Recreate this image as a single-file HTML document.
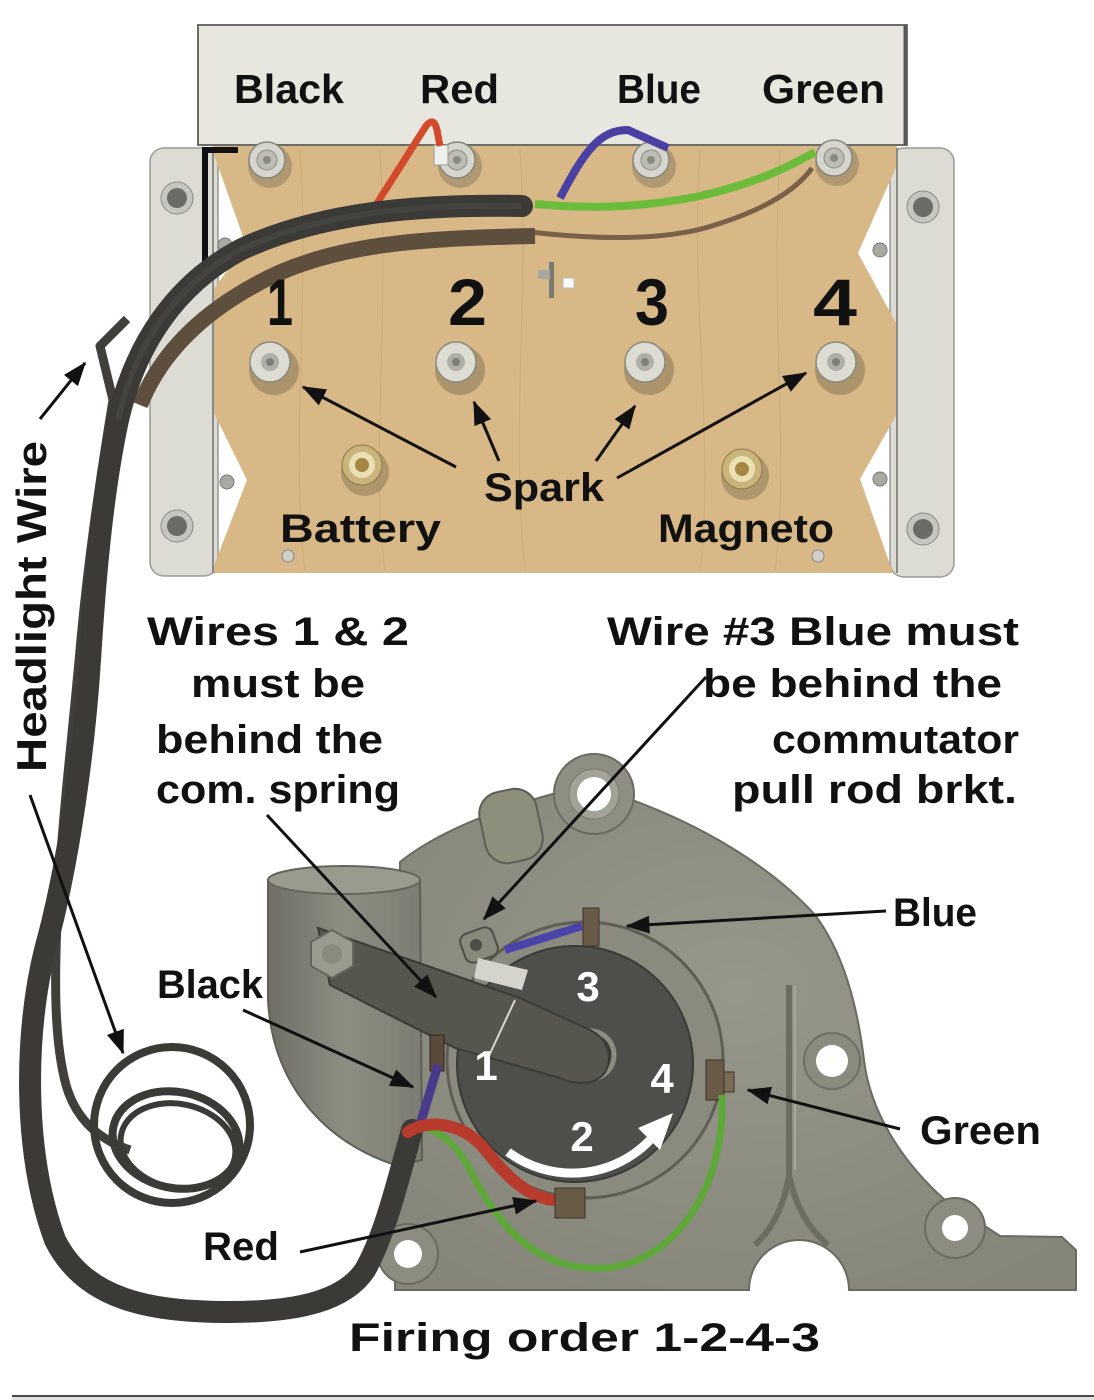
<!DOCTYPE html>
<html>
<head>
<meta charset="utf-8">
<style>
  html,body{margin:0;padding:0;background:#fff;}
  svg{display:block;}
  .t{font-family:"Liberation Sans",sans-serif;font-weight:bold;fill:#111;}
  .w{font-family:"Liberation Sans",sans-serif;font-weight:bold;fill:#fff;}
</style>
</head>
<body>
<svg width="1094" height="1400" viewBox="0 0 1094 1400" xmlns="http://www.w3.org/2000/svg">
  <defs>
    <marker id="ah" markerWidth="8" markerHeight="6" refX="7.5" refY="3" orient="auto" markerUnits="strokeWidth">
      <path d="M0,0 L8,3 L0,6 z" fill="#111"/>
    </marker>
    <radialGradient id="hous" cx="0.5" cy="0.4" r="0.7">
      <stop offset="0" stop-color="#96968a"/>
      <stop offset="1" stop-color="#85857a"/>
    </radialGradient>
    <linearGradient id="pipe" x1="0" x2="1" y1="0" y2="0">
      <stop offset="0" stop-color="#6f6f66"/>
      <stop offset="0.5" stop-color="#8d8d82"/>
      <stop offset="1" stop-color="#7c7c72"/>
    </linearGradient>
  </defs>

  <rect x="0" y="0" width="1094" height="1400" fill="#fff"/>

  <!-- ================= TOP BOX ================= -->
  <rect x="150" y="148" width="68" height="428" rx="14" fill="#dcdcd5" stroke="#9a9a94" stroke-width="1.5"/>
  <rect x="890" y="148" width="64" height="429" rx="14" fill="#dcdcd5" stroke="#9a9a94" stroke-width="1.5"/>
  <circle cx="177" cy="198" r="16" fill="#c6c6c0" stroke="#8a8a84"/>
  <circle cx="177" cy="198" r="10" fill="#6c6c66"/>
  <circle cx="177" cy="526" r="16" fill="#c6c6c0" stroke="#8a8a84"/>
  <circle cx="177" cy="526" r="10" fill="#6c6c66"/>
  <circle cx="923" cy="207" r="16" fill="#c6c6c0" stroke="#8a8a84"/>
  <circle cx="923" cy="207" r="10" fill="#6c6c66"/>
  <circle cx="923" cy="529" r="16" fill="#c6c6c0" stroke="#8a8a84"/>
  <circle cx="923" cy="529" r="10" fill="#6c6c66"/>

  <polygon points="213,143 897,143 897,165 858,253 897,325 897,414 860,479 893,573 213,573 213,568 247,480 213,411 213,290 246,245 213,152"
           fill="#d7b886"/>
  <g stroke="#c29f6c" stroke-width="1" opacity="0.5" fill="none">
    <path d="M300 150 C310 300 290 450 305 570"/>
    <path d="M520 150 C530 300 510 420 525 570"/>
    <path d="M700 150 C690 300 715 450 700 570"/>
    <path d="M380 150 C390 330 370 460 385 570"/>
    <path d="M780 150 C770 330 790 460 775 570"/>
  </g>
  <line x1="213" y1="148" x2="213" y2="573" stroke="#8a8a84" stroke-width="2"/>
  <line x1="897" y1="148" x2="897" y2="573" stroke="#8a8a84" stroke-width="2"/>
  <circle cx="225" cy="245" r="7" fill="#a9a9a2" stroke="#777"/>
  <circle cx="227" cy="482" r="7" fill="#a9a9a2" stroke="#777"/>
  <circle cx="880" cy="250" r="7" fill="#a9a9a2" stroke="#777"/>
  <circle cx="880" cy="479" r="7" fill="#a9a9a2" stroke="#777"/>

  <rect x="198" y="25" width="709" height="120" fill="#e7e7df" stroke="#6d6d68" stroke-width="2"/>
  <line x1="905" y1="25" x2="905" y2="145" stroke="#555" stroke-width="3"/>

  <g>
    <circle cx="270" cy="166" r="22" fill="#a08c6a" opacity="0.7"/>
    <circle cx="267" cy="160" r="18" fill="#d6d6ce" stroke="#86867e" stroke-width="1.5"/>
    <circle cx="267" cy="160" r="10" fill="#bdbdb5" stroke="#8a8a82"/>
    <circle cx="267" cy="160" r="4" fill="#8a8a82"/>

    <circle cx="460" cy="166" r="22" fill="#a08c6a" opacity="0.7"/>
    <circle cx="457" cy="160" r="18" fill="#d6d6ce" stroke="#86867e" stroke-width="1.5"/>
    <circle cx="457" cy="160" r="10" fill="#bdbdb5" stroke="#8a8a82"/>
    <circle cx="457" cy="160" r="4" fill="#8a8a82"/>
    <rect x="434" y="145" width="14" height="20" fill="#eeeeea" stroke="#999"/>

    <circle cx="654" cy="166" r="22" fill="#a08c6a" opacity="0.7"/>
    <circle cx="651" cy="160" r="18" fill="#d6d6ce" stroke="#86867e" stroke-width="1.5"/>
    <circle cx="651" cy="160" r="10" fill="#bdbdb5" stroke="#8a8a82"/>
    <circle cx="651" cy="160" r="4" fill="#8a8a82"/>

    <circle cx="837" cy="164" r="22" fill="#a08c6a" opacity="0.7"/>
    <circle cx="834" cy="158" r="18" fill="#d6d6ce" stroke="#86867e" stroke-width="1.5"/>
    <circle cx="834" cy="158" r="10" fill="#bdbdb5" stroke="#8a8a82"/>
    <circle cx="834" cy="158" r="4" fill="#8a8a82"/>
  </g>

  <g>
    <circle cx="274" cy="370" r="25" fill="#9c8763" opacity="0.75"/>
    <circle cx="270" cy="362" r="20" fill="#dcdcd2" stroke="#8a8a80" stroke-width="1.5"/>
    <circle cx="270" cy="362" r="9" fill="#b0b0a8"/>
    <circle cx="270" cy="362" r="4" fill="#7f7f78"/>

    <circle cx="460" cy="370" r="25" fill="#9c8763" opacity="0.75"/>
    <circle cx="456" cy="362" r="20" fill="#dcdcd2" stroke="#8a8a80" stroke-width="1.5"/>
    <circle cx="456" cy="362" r="9" fill="#b0b0a8"/>
    <circle cx="456" cy="362" r="4" fill="#7f7f78"/>

    <circle cx="649" cy="370" r="25" fill="#9c8763" opacity="0.75"/>
    <circle cx="645" cy="362" r="20" fill="#dcdcd2" stroke="#8a8a80" stroke-width="1.5"/>
    <circle cx="645" cy="362" r="9" fill="#b0b0a8"/>
    <circle cx="645" cy="362" r="4" fill="#7f7f78"/>

    <circle cx="840" cy="370" r="25" fill="#9c8763" opacity="0.75"/>
    <circle cx="836" cy="362" r="20" fill="#dcdcd2" stroke="#8a8a80" stroke-width="1.5"/>
    <circle cx="836" cy="362" r="9" fill="#b0b0a8"/>
    <circle cx="836" cy="362" r="4" fill="#7f7f78"/>
  </g>

  <circle cx="365" cy="472" r="24" fill="#9c8763" opacity="0.7"/>
  <circle cx="362" cy="465" r="20" fill="#c9b47c" stroke="#8c7a4a"/>
  <circle cx="362" cy="465" r="13" fill="#ebe0b4"/>
  <circle cx="362" cy="465" r="7" fill="#a58643"/>
  <circle cx="745" cy="476" r="24" fill="#9c8763" opacity="0.7"/>
  <circle cx="742" cy="469" r="20" fill="#c9b47c" stroke="#8c7a4a"/>
  <circle cx="742" cy="469" r="13" fill="#ebe0b4"/>
  <circle cx="742" cy="469" r="7" fill="#a58643"/>

  <circle cx="288" cy="556" r="6" fill="#d0d0c8" stroke="#888"/>
  <circle cx="818" cy="556" r="6" fill="#d0d0c8" stroke="#888"/>

  <rect x="549" y="262" width="5" height="36" fill="#7a7a72"/>
  <rect x="538" y="270" width="12" height="9" fill="#a8a8a0"/>
  <rect x="563" y="278" width="11" height="10" fill="#fafafa" stroke="#bbb"/>

  <path d="M205 275 L205 150 L238 150" fill="none" stroke="#111" stroke-width="6"/>
  <path d="M530 232 C600 240 660 240 705 228 C760 212 795 192 812 168" fill="none" stroke="#7a6048" stroke-width="5"/>
  <path d="M560 198 C585 150 600 130 628 130 L668 148" fill="none" stroke="#4a40a4" stroke-width="8"/>
  <path d="M535 204 C600 210 650 206 700 196 C760 182 790 166 815 152" fill="none" stroke="#6cbc3c" stroke-width="8"/>
  <path d="M374 208 L426 126 Q434 116 437 130 L440 146" fill="none" stroke="#d3492b" stroke-width="7"/>

  <!-- ================= HOUSING ================= -->
  <path d="M395 1290 L395 1150 L400 862 C440 830 500 808 560 792 L632 800 C700 825 770 865 815 915 C845 955 858 1010 864 1060 C870 1110 900 1160 945 1200 L1000 1236 L1062 1237 L1076 1250 L1076 1290 L849 1290 A50 50 0 0 0 749 1290 Z"
        fill="url(#hous)" stroke="#6a6a60" stroke-width="2"/>
  <circle cx="594" cy="794" r="40" fill="#8e8e82" stroke="#6a6a60" stroke-width="2"/>
  <circle cx="594" cy="794" r="25" fill="#a2a296" stroke="#77776c"/>
  <circle cx="594" cy="794" r="17" fill="#ffffff"/>
  <rect x="482" y="790" width="58" height="72" rx="22" fill="#8e8e7c" stroke="#5e5e52" stroke-width="2" transform="rotate(-12 511 826)"/>
  <circle cx="832" cy="1061" r="28" fill="#8a8a7e" stroke="#6e6e64" stroke-width="2"/>
  <circle cx="832" cy="1061" r="16" fill="#fff"/>
  <path d="M789 985 L789 1175 M789 1175 Q782 1220 755 1245 M789 1175 Q798 1220 828 1245" fill="none" stroke="#6c6c61" stroke-width="6"/>
  <path d="M795 985 L795 1170" fill="none" stroke="#a8a89c" stroke-width="2"/>
  <circle cx="955" cy="1228" r="30" fill="#8c8c80" stroke="#6a6a60" stroke-width="2"/>
  <circle cx="955" cy="1228" r="13" fill="#fff"/>
  <circle cx="408" cy="1254" r="30" fill="#8c8c80" stroke="#6a6a60" stroke-width="2"/>
  <circle cx="408" cy="1254" r="14" fill="#fff"/>

  <path d="M268 880 L268 1000 C272 1080 320 1140 395 1165 L422 1160 L420 880 Z" fill="url(#pipe)" stroke="#5f5f56" stroke-width="2"/>
  <ellipse cx="344" cy="880" rx="76" ry="14" fill="#9a9a8e" stroke="#65655b" stroke-width="2"/>

  <circle cx="585" cy="1060" r="138" fill="#8a8a7e" stroke="#5e5e55" stroke-width="3"/>
  <circle cx="575" cy="1064" r="118" fill="#4e4e4a" stroke="#3a3a37" stroke-width="2"/>

  <rect x="462" y="930" width="34" height="30" rx="8" fill="#8a8a7c" stroke="#4e4e46" stroke-width="2" transform="rotate(-20 479 945)"/>
  <circle cx="476" cy="945" r="6" fill="#4e4e46"/>
  <path d="M478 958 L528 970 L522 990 L474 978 Z" fill="#d4d4cc"/>
  <path d="M505 950 L582 926" fill="none" stroke="#4a44aa" stroke-width="8"/>
  <rect x="583" y="908" width="16" height="38" fill="#6a5a48" stroke="#3e342a"/>

  <circle cx="590" cy="1055" r="24" fill="#3a3a37" stroke="#8c8c82" stroke-width="5"/>

  <path d="M318 928 L520 998 L590 1030 C612 1040 616 1070 596 1080 C585 1085 570 1083 560 1078 L455 1048 L330 985 Z" fill="#56564f" stroke="#3a3a36" stroke-width="2"/>
  <line x1="515" y1="1000" x2="487" y2="1060" stroke="#d8d8d0" stroke-width="2"/>
  <polygon points="332,930 353,942 353,966 332,978 311,966 311,942" fill="#9a9a8e" stroke="#66665c" stroke-width="2"/>
  <circle cx="332" cy="954" r="10" fill="#8a8a7e"/>

  <rect x="706" y="1060" width="18" height="40" fill="#6a5a48" stroke="#3e342a"/>
  <rect x="724" y="1072" width="10" height="20" fill="#7a6a56" stroke="#3e342a"/>
  <rect x="430" y="1035" width="14" height="36" fill="#5a4a3a" stroke="#2e261e"/>
  <path d="M438 1065 L420 1125" fill="none" stroke="#4a3a8c" stroke-width="9"/>

  <text class="w" x="588" y="1001" font-size="42" text-anchor="middle">3</text>
  <text class="w" x="486" y="1080" font-size="42" text-anchor="middle">1</text>
  <text class="w" x="662" y="1093" font-size="42" text-anchor="middle">4</text>
  <text class="w" x="582" y="1151" font-size="42" text-anchor="middle">2</text>
  <path d="M508 1152 A108 108 0 0 0 650 1140" fill="none" stroke="#fff" stroke-width="9"/>
  <polygon points="673,1113 660,1150 638,1128" fill="#fff"/>

  <!-- ================= CABLES ================= -->
  <path d="M535 236 C430 238 330 242 255 285 C200 315 160 355 140 405" fill="none" stroke="#5e4e3e" stroke-width="16"/>
  <path d="M127 319 L100 346 L113 400 C100 480 88 560 80 650 C72 740 62 820 58 900 C54 980 54 1040 66 1085 C76 1120 100 1140 130 1150"
        fill="none" stroke="#403f3b" stroke-width="9" stroke-linejoin="round"/>
  <path d="M522 206 C420 204 320 212 240 250 C175 285 135 345 118 420 C102 495 95 580 90 660 C85 740 70 860 45 950 C25 1030 22 1150 55 1240 C85 1300 150 1312 230 1312 C300 1312 345 1300 365 1270 C385 1235 398 1180 412 1130"
        fill="none" stroke="#3b3a37" stroke-width="22" stroke-linecap="round"/>
  <path d="M522 206 C420 204 320 212 240 250 C175 285 135 345 118 420" fill="none" stroke="#4d4a45" stroke-width="6" opacity="0.6"/>
  <g fill="none" stroke="#3a3a36">
    <ellipse cx="172" cy="1125" rx="78" ry="78" stroke-width="8"/>
    <ellipse cx="176" cy="1140" rx="64" ry="48" stroke-width="8" transform="rotate(12 176 1140)"/>
    <ellipse cx="178" cy="1146" rx="58" ry="42" stroke-width="6" transform="rotate(12 178 1146)"/>
  </g>

  <path d="M722 1095 C726 1180 680 1262 605 1268 C540 1272 500 1230 470 1170 C455 1140 432 1126 414 1126" fill="none" stroke="#5ea83a" stroke-width="7"/>
  <path d="M408 1132 C430 1118 462 1124 482 1146 C502 1170 522 1195 552 1200" fill="none" stroke="#b83a2c" stroke-width="12" stroke-linecap="round"/>
  <rect x="555" y="1188" width="30" height="30" fill="#6a5a48" stroke="#3e342a"/>

  <!-- ================= LABELS ================= -->
  <text class="t" x="234" y="103" font-size="41" textLength="110" lengthAdjust="spacingAndGlyphs">Black</text>
  <text class="t" x="420" y="103" font-size="41" textLength="79" lengthAdjust="spacingAndGlyphs">Red</text>
  <text class="t" x="617" y="103" font-size="41" textLength="84" lengthAdjust="spacingAndGlyphs">Blue</text>
  <text class="t" x="762" y="103" font-size="41" textLength="123" lengthAdjust="spacingAndGlyphs">Green</text>

  <text class="t" x="267" y="325" font-size="66" textLength="26" lengthAdjust="spacingAndGlyphs">1</text>
  <text class="t" x="448" y="325" font-size="66" textLength="39" lengthAdjust="spacingAndGlyphs">2</text>
  <text class="t" x="635" y="325" font-size="66" textLength="34" lengthAdjust="spacingAndGlyphs">3</text>
  <text class="t" x="813" y="325" font-size="66" textLength="44" lengthAdjust="spacingAndGlyphs">4</text>

  <text class="t" x="484" y="501" font-size="40" textLength="120" lengthAdjust="spacingAndGlyphs">Spark</text>
  <text class="t" x="280" y="542" font-size="40" textLength="161" lengthAdjust="spacingAndGlyphs">Battery</text>
  <text class="t" x="658" y="542" font-size="40" textLength="176" lengthAdjust="spacingAndGlyphs">Magneto</text>

  <text class="t" x="147" y="645" font-size="40" textLength="262" lengthAdjust="spacingAndGlyphs">Wires 1 &amp; 2</text>
  <text class="t" x="191" y="697" font-size="40" textLength="174" lengthAdjust="spacingAndGlyphs">must be</text>
  <text class="t" x="156" y="753" font-size="40" textLength="227" lengthAdjust="spacingAndGlyphs">behind the</text>
  <text class="t" x="156" y="803" font-size="40" textLength="244" lengthAdjust="spacingAndGlyphs">com. spring</text>

  <text class="t" x="607" y="645" font-size="40" textLength="412" lengthAdjust="spacingAndGlyphs">Wire #3 Blue must</text>
  <text class="t" x="703" y="697" font-size="40" textLength="299" lengthAdjust="spacingAndGlyphs">be behind the</text>
  <text class="t" x="772" y="753" font-size="40" textLength="247" lengthAdjust="spacingAndGlyphs">commutator</text>
  <text class="t" x="732" y="803" font-size="40" textLength="285" lengthAdjust="spacingAndGlyphs">pull rod brkt.</text>

  <text class="t" x="893" y="926" font-size="40" textLength="84" lengthAdjust="spacingAndGlyphs">Blue</text>
  <text class="t" x="157" y="998" font-size="40" textLength="106" lengthAdjust="spacingAndGlyphs">Black</text>
  <text class="t" x="920" y="1144" font-size="40" textLength="121" lengthAdjust="spacingAndGlyphs">Green</text>
  <text class="t" x="203" y="1260" font-size="40" textLength="76" lengthAdjust="spacingAndGlyphs">Red</text>
  <text class="t" x="349" y="1351" font-size="40" textLength="471" lengthAdjust="spacingAndGlyphs">Firing order 1-2-4-3</text>

  <text class="t" x="0" y="0" font-size="42" textLength="331" lengthAdjust="spacingAndGlyphs" transform="translate(46 772) rotate(-90)">Headlight Wire</text>

  <!-- ================= ARROWS ================= -->
  <g stroke="#111" stroke-width="3" fill="none" marker-end="url(#ah)">
    <line x1="456" y1="467" x2="303" y2="387"/>
    <line x1="499" y1="461" x2="474" y2="402"/>
    <line x1="596" y1="461" x2="635" y2="406"/>
    <line x1="617" y1="478" x2="806" y2="373"/>

    <line x1="40" y1="419" x2="85" y2="363"/>
    <line x1="30" y1="795" x2="123" y2="1053"/>
    <line x1="267" y1="815" x2="436" y2="997"/>
    <line x1="706" y1="677" x2="484" y2="919"/>
    <line x1="886" y1="911" x2="627" y2="926"/>
    <line x1="243" y1="1010" x2="413" y2="1087"/>
    <line x1="900" y1="1129" x2="748" y2="1090"/>
    <line x1="300" y1="1252" x2="536" y2="1201"/>
  </g>

  <rect x="12" y="1397" width="1082" height="3" fill="#e2e2e2"/>
  <line x1="12" y1="1396" x2="1094" y2="1396" stroke="#4a4a4a" stroke-width="2"/>
</svg>
</body>
</html>
